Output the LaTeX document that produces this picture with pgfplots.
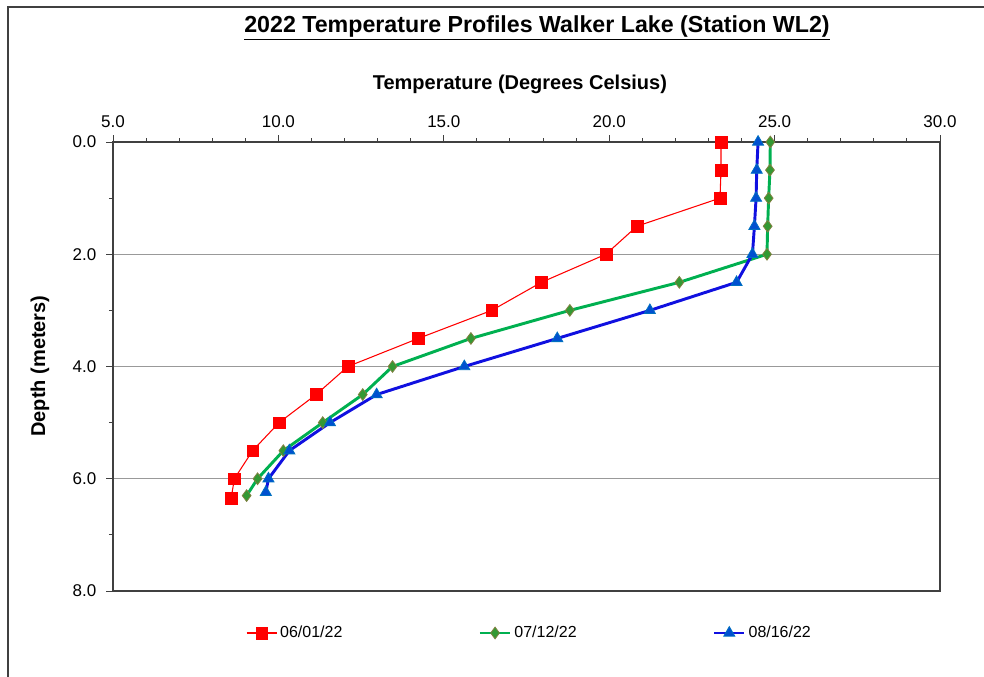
\documentclass[border=0pt]{standalone}
\usepackage{fontspec}
\setmainfont{Liberation Sans}
\usepackage{pgfplots}
\usepackage{pgfplotstable}
\pgfplotsset{compat=1.18}
\definecolor{redS}{HTML}{FF0000}
\definecolor{greenL}{HTML}{00B050}
\definecolor{greenF}{HTML}{339933}
\definecolor{greenE}{HTML}{808040}
\definecolor{blueL}{HTML}{1010E0}
\definecolor{blueF}{HTML}{0050D0}
\definecolor{blueE}{HTML}{0070C0}
\definecolor{frame}{HTML}{404040}

\pgfplotstableread{
depth temp
0    23.38
0.5  23.38
1.0  23.35
1.5  20.84
2.0  19.90
2.5  17.95
3.0  16.45
3.5  14.23
4.0  12.10
4.5  11.14
5.0  10.02
5.5  9.22
6.0  8.67
6.35 8.57
}\juneone

\pgfplotstableread{
depth temp
0    24.87
0.5  24.86
1.0  24.82
1.5  24.79
2.0  24.77
2.5  22.12
3.0  18.81
3.5  15.82
4.0  13.45
4.5  12.55
5.0  11.34
5.5  10.15
6.0  9.37
6.3  9.04
}\julytwelve

\pgfplotstableread{
depth temp
0    24.50
0.5  24.46
1.0  24.44
1.5  24.39
2.0  24.33
2.5  23.85
3.0  21.23
3.5  18.43
4.0  15.62
4.5  12.97
5.0  11.56
5.5  10.33
6.0  9.70
6.24 9.62
}\augsixteen

\begin{document}
\begin{tikzpicture}
\useasboundingbox (0,0) rectangle (738pt,507.75pt);
\draw[frame, line width=1.1pt] (6pt,-2pt) -- (6pt,502.5pt) -- (740pt,502.5pt);
\node[font=\bfseries\fontsize{17.4}{20}\selectfont] at (402.75pt,487pt) {\underline{2022 Temperature Profiles Walker Lake (Station WL2)}};
\begin{axis}[
  at={(84.75pt,64.5pt)}, anchor=south west,
  scale only axis,
  width=620.25pt, height=336.75pt,
  xmin=5, xmax=30, ymin=0, ymax=8,
  y dir=reverse,
  xtick={5,10,...,30},
  ytick={0,2,4,6,8},
  minor x tick num=4,
  minor y tick num=1,
  xtick pos=top,
  ytick pos=left,
  xticklabel pos=top,
  tick align=outside,
  major tick length=5pt,
  minor tick length=3pt,
  tick style={color=frame, line width=0.7pt},
  axis line style={color=frame, line width=1pt},
  ymajorgrids,
  major grid style={color=black!40, line width=0.9pt},
  /pgf/number format/.cd, fixed, fixed zerofill, precision=1, assume math mode=true,
  /pgfplots/.cd,
  ticklabel style={font=\fontsize{12.75}{15}\selectfont},
  xticklabel style={yshift=2pt},
  yticklabel style={xshift=-4pt},
  xlabel={Temperature (Degrees Celsius)},
  ylabel={Depth (meters)},
  label style={font=\bfseries\fontsize{15}{18}\selectfont},
  xlabel style={at={(axis description cs:0.492,1.128)}, anchor=center},
  ylabel style={at={(axis description cs:-0.0883,0.501)}, anchor=center, rotate=0},
  legend columns=3,
  legend style={draw=none, at={(0.504,-0.0935)}, anchor=center,
    font=\fontsize{12}{14}\selectfont,
    /tikz/every even column/.append style={column sep=100pt}},
  legend image code/.code={\draw[mark repeat=2,mark phase=2] plot coordinates {(0cm,0cm)(0.4cm,0cm)(0.8cm,0cm)};},
]
\addplot[color=redS, line width=0.8pt, mark=square*, mark size=4.4pt, mark options={fill=redS, draw=redS, line width=0.3pt}] table[x=temp, y=depth] {\juneone};
\addlegendentry{06/01/22}
\addplot[color=greenL, line width=2.2pt, mark=diamond*, mark size=4.4pt, mark options={fill=greenF, draw=greenE, line width=0.6pt}] table[x=temp, y=depth] {\julytwelve};
\addlegendentry{07/12/22}
\addplot[color=blueL, line width=2.2pt, mark=triangle*, mark size=4.8pt, mark options={fill=blueF, draw=blueE, line width=0.6pt}] table[x=temp, y=depth] {\augsixteen};
\addlegendentry{08/16/22}
\end{axis}
\end{tikzpicture}
\end{document}
